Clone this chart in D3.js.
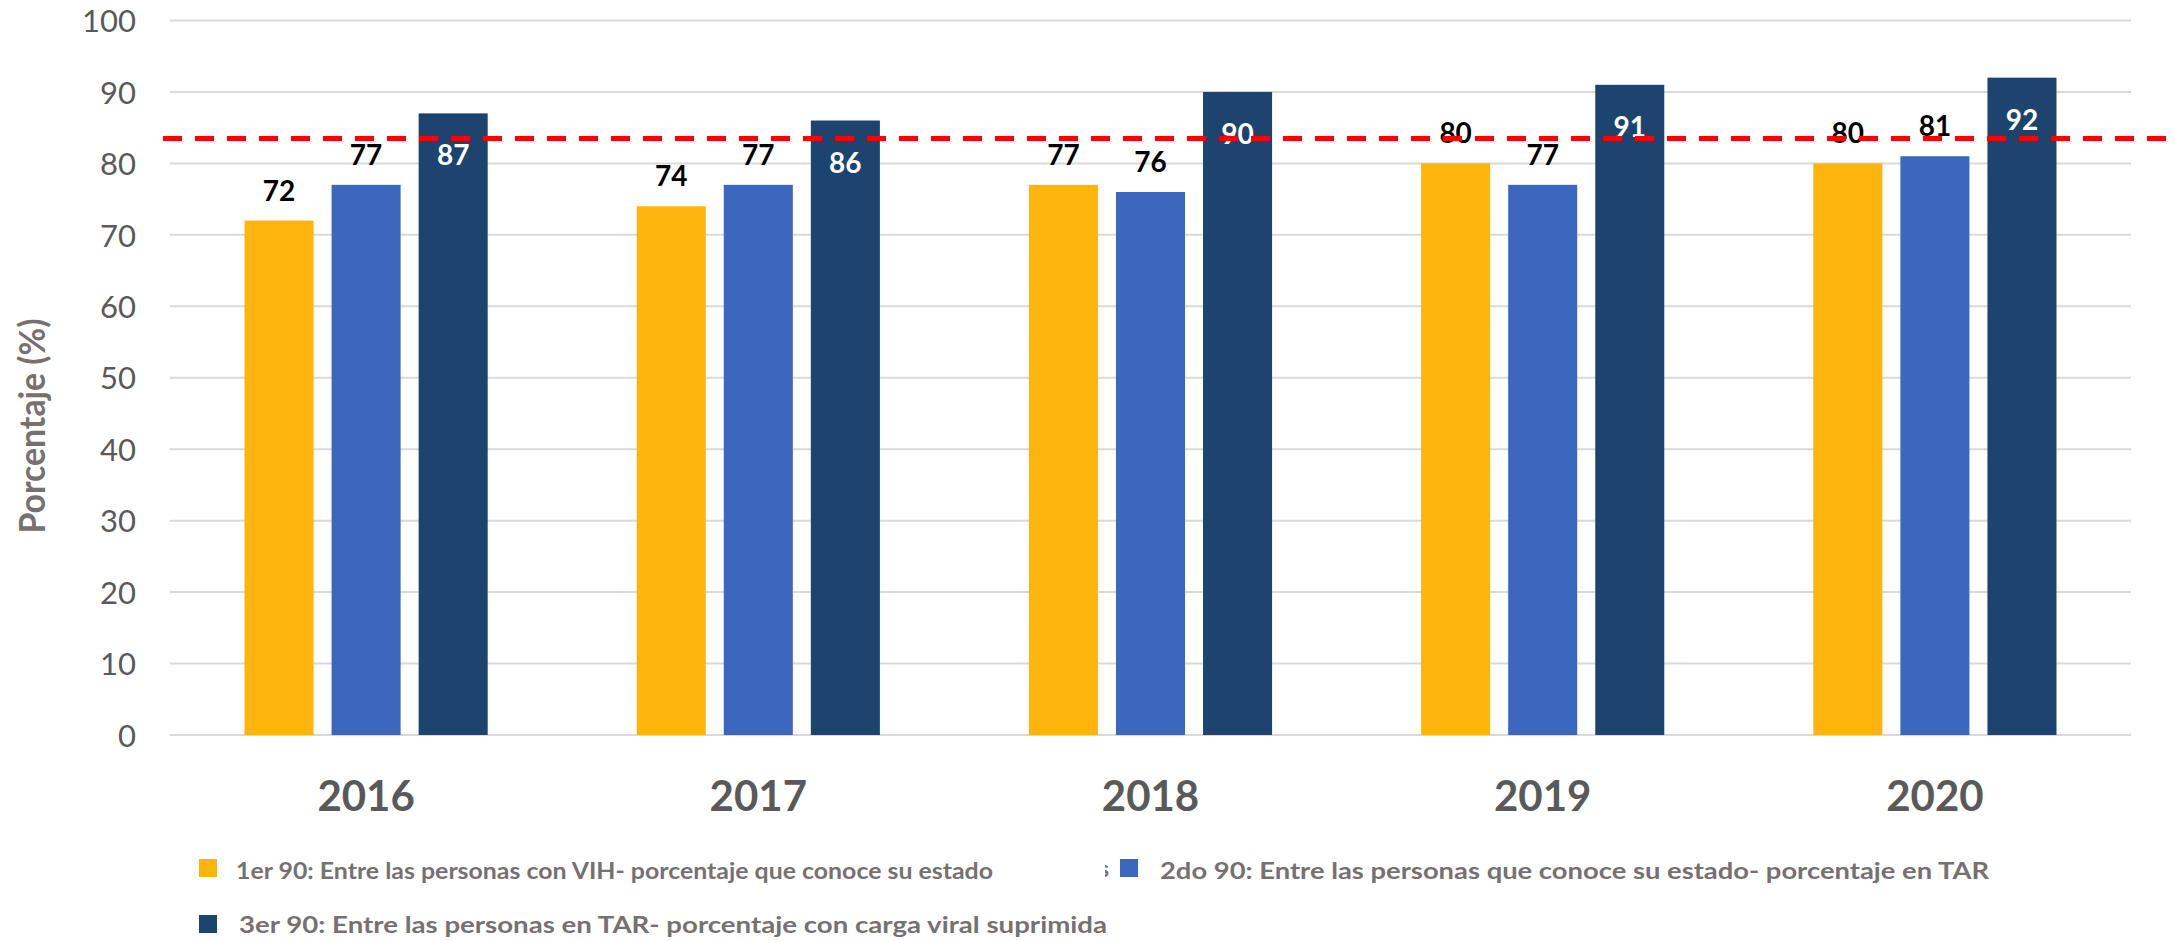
<!DOCTYPE html>
<html>
<head>
<meta charset="utf-8">
<script src="https://cdn.jsdelivr.net/npm/d3@7"></script>
<style>
  html, body { margin: 0; padding: 0; background: #ffffff; }
  svg { display: block; }
</style>
</head>
<body>
<svg id="chart" width="2174" height="941"></svg>
<script>
const years = ["2016", "2017", "2018", "2019", "2020"];
const primer90 = [72, 74, 77, 80, 80];
const segundo90 = [77, 77, 76, 77, 81];
const tercer90 = [87, 86, 90, 91, 92];
const metaValue = 83.5;
const yTicks = [0, 10, 20, 30, 40, 50, 60, 70, 80, 90, 100];
const seriesNames = [
  "1er 90: Entre las personas con VIH- porcentaje que conoce su estado",
  "2do 90: Entre las personas que conoce su estado- porcentaje en TAR",
  "3er 90: Entre las personas en TAR- porcentaje con carga viral suprimida"
];
const seriesColors = ["#FDB50D", "#3B67BE", "#1C446F"];
const yTitle = "Porcentaje (%)";

const series = [primer90, segundo90, tercer90];
const svg = d3.select("#chart");
const FONT = "Lato, 'Open Sans', sans-serif";

const plotLeft = 170, plotRight = 2131, plotTop = 20.5, plotBottom = 735;

const x0 = d3.scaleBand().domain(years).range([plotLeft, plotRight])
  .paddingInner(0.38).paddingOuter(0.19);
const x1 = d3.scaleBand().domain([0, 1, 2]).range([0, x0.bandwidth()])
  .paddingInner(0.207).paddingOuter(0);
const y = d3.scaleLinear().domain([0, 100]).range([plotBottom, plotTop]);

// gridlines
svg.append("g").selectAll("line").data(yTicks).join("line")
  .attr("x1", plotLeft).attr("x2", plotRight)
  .attr("y1", d => y(d)).attr("y2", d => y(d))
  .attr("stroke", "#d9d9d9").attr("stroke-width", 2);

// y axis tick labels
const yAxis = d3.axisLeft(y).tickValues(yTicks).tickSize(0).tickPadding(0);
const gy = svg.append("g").attr("transform", `translate(136,0)`).call(yAxis);
gy.select(".domain").remove();
gy.selectAll("text")
  .attr("font-family", FONT).attr("font-size", 31).attr("fill", "#595959")
  .attr("dy", "0.36em");

// bars
const groups = svg.append("g").selectAll("g").data(years).join("g")
  .attr("transform", d => `translate(${x0(d)},0)`);

groups.selectAll("rect").data((d, i) => series.map((s, k) => ({ k, v: s[i] })))
  .join("rect")
  .attr("x", d => x1(d.k))
  .attr("width", x1.bandwidth())
  .attr("y", d => y(d.v))
  .attr("height", d => y(0) - y(d.v))
  .attr("fill", d => seriesColors[d.k]);

// reference dashed line
svg.append("line")
  .attr("x1", 163).attr("x2", 2174)
  .attr("y1", y(metaValue)).attr("y2", y(metaValue))
  .attr("stroke", "#FF0000").attr("stroke-width", 5)
  .attr("stroke-dasharray", "19 13");

// data labels
groups.selectAll("text.lbl").data((d, i) => series.map((s, k) => ({ k, v: s[i] })))
  .join("text").attr("class", "lbl")
  .attr("x", d => x1(d.k) + x1.bandwidth() / 2)
  .attr("y", d => d.k === 2 ? y(d.v) + 52 : y(d.v) - 20)
  .attr("text-anchor", "middle")
  .attr("font-family", FONT).attr("font-weight", 700).attr("font-size", 28)
  .attr("fill", d => d.k === 2 ? "#ffffff" : "#000000")
  .text(d => d.v);

// x axis labels
const xAxis = d3.axisBottom(x0).tickSize(0).tickPadding(0);
const gx = svg.append("g").attr("transform", `translate(0,811)`).call(xAxis);
gx.select(".domain").remove();
gx.selectAll("text")
  .attr("font-family", FONT).attr("font-weight", 700).attr("font-size", 42)
  .attr("fill", "#595959").attr("dy", 0);

// y title
svg.append("text")
  .attr("transform", "translate(45,426) rotate(-90)")
  .attr("text-anchor", "middle")
  .attr("font-family", FONT).attr("font-weight", 700).attr("font-size", 36)
  .attr("fill", "#767171")
  .attr("textLength", 215).attr("lengthAdjust", "spacingAndGlyphs")
  .text(yTitle);

// legend
const legendItems = [
  { sx: 199, sy: 859, tx: 236, ty: 879, w: 757 },
  { sx: 1120, sy: 859, tx: 1160, ty: 879, w: 829 },
  { sx: 199, sy: 915, tx: 239, ty: 933, w: 868 }
];
const lg = svg.append("g").selectAll("g").data(legendItems).join("g");
lg.append("rect")
  .attr("x", d => d.sx).attr("y", d => d.sy)
  .attr("width", 18).attr("height", 18)
  .attr("fill", (d, i) => seriesColors[i]);
lg.append("text")
  .attr("x", d => d.tx).attr("y", d => d.ty)
  .attr("font-family", FONT).attr("font-weight", 700).attr("font-size", 23)
  .attr("fill", "#767171")
  .attr("textLength", d => d.w).attr("lengthAdjust", "spacingAndGlyphs")
  .text((d, i) => seriesNames[i]);

// clipped stray glyph left of the second legend entry
svg.append("clipPath").attr("id", "strayClip")
  .append("rect").attr("x", 1105).attr("y", 850).attr("width", 6).attr("height", 40);
svg.append("text")
  .attr("x", 1099).attr("y", 877)
  .attr("clip-path", "url(#strayClip)")
  .attr("font-family", FONT).attr("font-weight", 700).attr("font-size", 23)
  .attr("fill", "#767171")
  .text("s");
</script>
</body>
</html>
